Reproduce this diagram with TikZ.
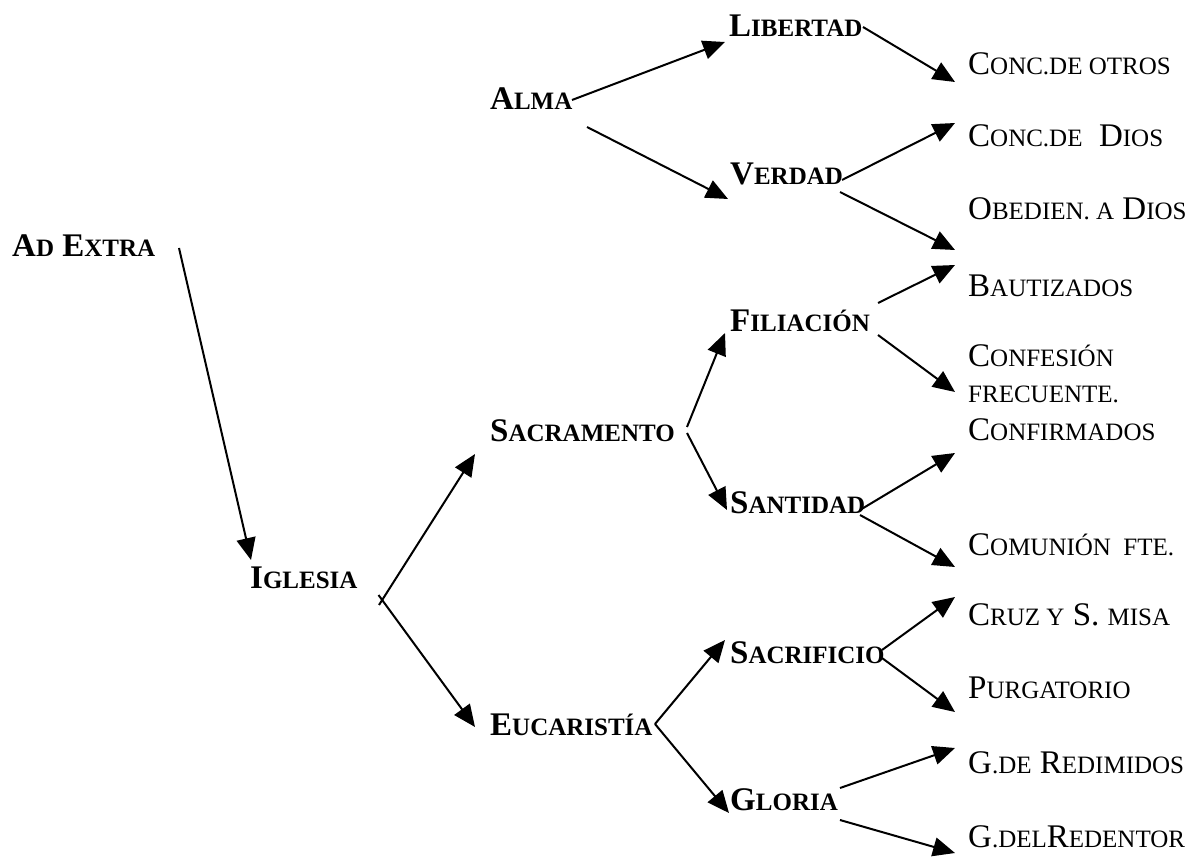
\documentclass[tikz,border=0pt]{standalone}
\usepackage{fontspec}
\setmainfont{Liberation Serif}
\newfontfamily\tnr{Liberation Serif}
\usetikzlibrary{arrows.meta}
% reduced capitals used for the small-caps part of each label
\newcommand\sm[1]{{\fontsize{25}{30}\selectfont #1}}
\begin{document}
\begin{tikzpicture}[x=1pt,y=-1pt,
  lbl/.style={anchor=base west, inner sep=0pt, font=\tnr\fontsize{33}{38}\selectfont},
  key/.style={anchor=base west, inner sep=0pt, font=\tnr\fontsize{33}{38}\selectfont\bfseries},
  arr/.style={line width=2pt, -{Triangle[length=22pt,width=19pt]}}]
\useasboundingbox (0,0) rectangle (1189,858);

% main concepts
\node[key] (adx)  at (12,257)  {A\sm{D} E\sm{XTRA}};
\node[key] (igl)  at (250,588) {I\sm{GLESIA}};
\node[key] (alma) at (490,110) {A\sm{LMA}};
\node[key] (sac)  at (490,442) {S\sm{ACRAMENTO}};
\node[key] (euc)  at (490,735) {E\sm{UCARISTÍA}};
\node[key] (lib)  at (729,37)  {L\sm{IBERTAD}};
\node[key] (ver)  at (730,185) {V\sm{ERDAD}};
\node[key] (fil)  at (730,332) {F\sm{ILIACIÓN}};
\node[key] (san)  at (730,513) {S\sm{ANTIDAD}};
\node[key] (sacf) at (730,663) {S\sm{ACRIFICIO}};
\node[key] (glo)  at (730,810) {G\sm{LORIA}};

% consequences
\node[lbl] (cdo)   at (968,75)  {C\sm{ONC.DE OTROS}};
\node[lbl] (cdd)   at (968,147) {C\sm{ONC.DE}\ \ D\sm{IOS}};
\node[lbl] (obe)   at (968,220) {O\sm{BEDIEN. A} D\sm{IOS}};
\node[lbl] (bau)   at (968,297) {B\sm{AUTIZADOS}};
\node[lbl] (conf)  at (968,367) {C\sm{ONFESIÓN}};
\node[lbl] (frec)  at (968,403) {\sm{FRECUENTE.}};
\node[lbl] (confi) at (968,440) {C\sm{ONFIRMADOS}};
\node[lbl] (com)   at (968,555) {C\sm{OMUNIÓN\ \ FTE.}};
\node[lbl] (cruz)  at (968,625) {C\sm{RUZ Y} S. \sm{MISA}};
\node[lbl] (pur)   at (968,698) {P\sm{URGATORIO}};
\node[lbl] (gdr)   at (968,773) {G\sm{.DE} R\sm{EDIMIDOS}};
\node[lbl] (gdl)   at (968,847) {G\sm{.DEL}R\sm{EDENTOR}};

% connectors
\draw[arr] ([shift={(167,-9)}]adx.base west) -- ([shift={(1,-28)}]igl.base west);
\draw[arr] ([shift={(129,17)}]igl.base west) -- ([shift={(-15,12)}]sac.base west);
\draw[arr] ([shift={(128.5,7)}]igl.base west) -- ([shift={(-15,-8)}]euc.base west);

\draw[arr] ([shift={(82,-10)}]alma.base west) -- ([shift={(-4,5)}]lib.base west);
\draw[arr] ([shift={(97,17)}]alma.base west) -- ([shift={(-2,14)}]ver.base west);
\draw[arr] ([shift={(197,-15)}]sac.base west) -- ([shift={(-5,1)}]fil.base west);
\draw[arr] ([shift={(197,-9)}]sac.base west) -- ([shift={(-3,-3)}]san.base west);
\draw[arr] ([shift={(165,-11)}]euc.base west) -- ([shift={(-5,-23)}]sacf.base west);
\draw[arr] ([shift={(165,-11)}]euc.base west) -- ([shift={(-1,3)}]glo.base west);

\draw[arr] ([shift={(134,-10)}]lib.base west) -- ([shift={(-13,7)}]cdo.base west);
\draw[arr] ([shift={(112,-5)}]ver.base west) -- ([shift={(-13,-24)}]cdd.base west);
\draw[arr] ([shift={(110,7)}]ver.base west) -- ([shift={(-13,30)}]obe.base west);
\draw[arr] ([shift={(148,-29)}]fil.base west) -- ([shift={(-13,-32)}]bau.base west);
\draw[arr] ([shift={(148,3)}]fil.base west) -- ([shift={(-13,25)}]conf.base west);
\draw[arr] ([shift={(130,-3)}]san.base west) -- ([shift={(-13,13)}]confi.base west);
\draw[arr] ([shift={(130,2)}]san.base west) -- ([shift={(-13,12)}]com.base west);
\draw[arr] ([shift={(152,-13)}]sacf.base west) -- ([shift={(-13,-28)}]cruz.base west);
\draw[arr] ([shift={(152,-5)}]sacf.base west) -- ([shift={(-13,14)}]pur.base west);
\draw[arr] ([shift={(110,-22)}]glo.base west) -- ([shift={(-13,-25)}]gdr.base west);
\draw[arr] ([shift={(110,10)}]glo.base west) -- ([shift={(-13,6)}]gdl.base west);
\end{tikzpicture}
\end{document}
